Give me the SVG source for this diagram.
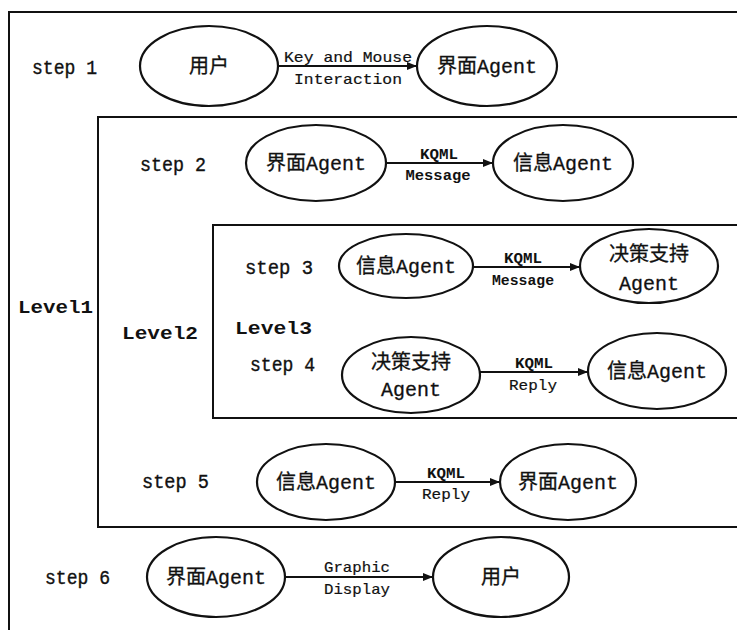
<svg xmlns="http://www.w3.org/2000/svg" width="737" height="630" viewBox="0 0 737 630">
<defs>
<style>
.box{fill:none;stroke:#111;stroke-width:2}
.node{fill:#fff;stroke:#111;stroke-width:2.2}
.edge{stroke:#111;stroke-width:2;fill:none}
.lbl{font-family:"Liberation Mono","Noto Sans CJK SC",monospace;font-size:20px;fill:#111;text-anchor:middle;stroke:#111;stroke-width:0.3}
.step{font-family:"Liberation Mono",monospace;font-size:21px;fill:#111;stroke:#111;stroke-width:0.4}
.lvl{font-family:"Liberation Mono",monospace;font-size:19px;font-weight:bold;fill:#111}
.el{font-family:"Liberation Mono",monospace;font-size:15px;fill:#111;text-anchor:middle;stroke:#111;stroke-width:0.2}
.elb{font-family:"Liberation Mono",monospace;font-size:15px;font-weight:bold;fill:#111;text-anchor:middle}
</style>
<marker id="arr" viewBox="0 0 10 8" refX="10" refY="4" markerWidth="10" markerHeight="8" markerUnits="userSpaceOnUse" orient="auto">
<path d="M0,0 L10,4 L0,8 z" fill="#111"/>
</marker>
</defs>
<rect width="737" height="630" fill="#fff"/>
<g id="containers">
<path class="box" d="M9,630 V12 H737"/>
<path class="box" d="M737,117 H98 V527 H737"/>
<path class="box" d="M737,225 H213 V418 H737"/>
<text class="lvl" x="18" y="313" textLength="75" lengthAdjust="spacingAndGlyphs">Level1</text>
<text class="lvl" x="122" y="339" textLength="76" lengthAdjust="spacingAndGlyphs">Level2</text>
<text class="lvl" x="235" y="334" textLength="77" lengthAdjust="spacingAndGlyphs">Level3</text>
</g>
<g id="steps">
<text class="step" x="32" y="74" textLength="65" lengthAdjust="spacingAndGlyphs">step 1</text>
<text class="step" x="140" y="171" textLength="66" lengthAdjust="spacingAndGlyphs">step 2</text>
<text class="step" x="245" y="274" textLength="68" lengthAdjust="spacingAndGlyphs">step 3</text>
<text class="step" x="250" y="371" textLength="65" lengthAdjust="spacingAndGlyphs">step 4</text>
<text class="step" x="142" y="488" textLength="67" lengthAdjust="spacingAndGlyphs">step 5</text>
<text class="step" x="45" y="584" textLength="65" lengthAdjust="spacingAndGlyphs">step 6</text>
</g>
<g id="connectors">
<line class="edge" x1="278" y1="66" x2="417" y2="66" marker-end="url(#arr)"/>
<line class="edge" x1="386" y1="163" x2="493" y2="163" marker-end="url(#arr)"/>
<line class="edge" x1="472" y1="267" x2="580" y2="267" marker-end="url(#arr)"/>
<line class="edge" x1="480" y1="372" x2="588" y2="372" marker-end="url(#arr)"/>
<line class="edge" x1="395" y1="482" x2="500" y2="482" marker-end="url(#arr)"/>
<line class="edge" x1="285" y1="577" x2="433" y2="577" marker-end="url(#arr)"/>
<text class="el" x="348" y="62" textLength="128" lengthAdjust="spacingAndGlyphs">Key and Mouse</text>
<text class="el" x="348" y="84" textLength="108" lengthAdjust="spacingAndGlyphs">Interaction</text>
<text class="elb" x="439" y="159" textLength="38" lengthAdjust="spacingAndGlyphs">KQML</text>
<text class="elb" x="438" y="180" textLength="65" lengthAdjust="spacingAndGlyphs">Message</text>
<text class="elb" x="523" y="263" textLength="38" lengthAdjust="spacingAndGlyphs">KQML</text>
<text class="elb" x="523" y="285" textLength="62" lengthAdjust="spacingAndGlyphs">Message</text>
<text class="elb" x="534" y="368" textLength="38" lengthAdjust="spacingAndGlyphs">KQML</text>
<text class="el" x="533" y="390" textLength="48" lengthAdjust="spacingAndGlyphs">Reply</text>
<text class="elb" x="446" y="478" textLength="38" lengthAdjust="spacingAndGlyphs">KQML</text>
<text class="el" x="446" y="499" textLength="48" lengthAdjust="spacingAndGlyphs">Reply</text>
<text class="el" x="357" y="572" textLength="66" lengthAdjust="spacingAndGlyphs">Graphic</text>
<text class="el" x="357" y="594" textLength="66" lengthAdjust="spacingAndGlyphs">Display</text>
</g>
<g id="n1-user">
<ellipse class="node" cx="209" cy="66" rx="69" ry="40"/>
<text class="lbl" x="209" y="73">用户</text>
</g>
<g id="n1-ui">
<ellipse class="node" cx="487" cy="66" rx="70" ry="40"/>
<text class="lbl" x="487" y="73">界面Agent</text>
</g>
<g id="n2-ui">
<ellipse class="node" cx="316" cy="163" rx="70" ry="38"/>
<text class="lbl" x="316" y="170">界面Agent</text>
</g>
<g id="n2-info">
<ellipse class="node" cx="563" cy="163" rx="70" ry="38"/>
<text class="lbl" x="563" y="170">信息Agent</text>
</g>
<g id="n3-info">
<ellipse class="node" cx="406" cy="266" rx="67" ry="32"/>
<text class="lbl" x="406" y="273">信息Agent</text>
</g>
<g id="n3-dss">
<ellipse class="node" cx="649" cy="266" rx="69" ry="37"/>
<text class="lbl" x="649" y="261">决策支持</text>
<text class="lbl" x="649" y="290">Agent</text>
</g>
<g id="n4-dss">
<ellipse class="node" cx="411" cy="375" rx="69" ry="38"/>
<text class="lbl" x="411" y="369">决策支持</text>
<text class="lbl" x="411" y="396">Agent</text>
</g>
<g id="n4-info">
<ellipse class="node" cx="657" cy="371" rx="69" ry="38"/>
<text class="lbl" x="657" y="378">信息Agent</text>
</g>
<g id="n5-info">
<ellipse class="node" cx="326" cy="482" rx="69" ry="38"/>
<text class="lbl" x="326" y="489">信息Agent</text>
</g>
<g id="n5-ui">
<ellipse class="node" cx="568" cy="482" rx="68" ry="38"/>
<text class="lbl" x="568" y="489">界面Agent</text>
</g>
<g id="n6-ui">
<ellipse class="node" cx="216" cy="577" rx="69" ry="40"/>
<text class="lbl" x="216" y="584">界面Agent</text>
</g>
<g id="n6-user">
<ellipse class="node" cx="501" cy="577" rx="68" ry="40"/>
<text class="lbl" x="501" y="584">用户</text>
</g>
</svg>
